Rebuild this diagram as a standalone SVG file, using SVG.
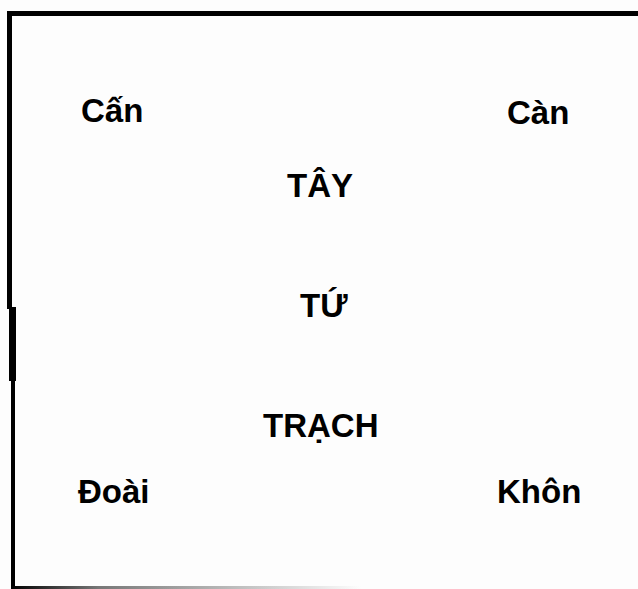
<svg xmlns="http://www.w3.org/2000/svg" width="638" height="589" viewBox="0 0 638 589">
  <defs>
    <linearGradient id="fadeBottom" x1="0" y1="0" x2="1" y2="0">
      <stop offset="0" stop-color="#000"/>
      <stop offset="0.25" stop-color="#777"/>
      <stop offset="1" stop-color="#fdfdfd"/>
    </linearGradient>
    <style>
      .lbl { font-family: "Liberation Sans", Arial, sans-serif; font-weight: bold; font-size: 33px; fill: #000; }
    </style>
  </defs>
  <rect x="0" y="0" width="638" height="589" fill="#fdfdfd"/>

  <!-- frame -->
  <g id="frame">
    <rect x="7" y="11" width="631" height="5" fill="#000"/>
    <rect x="7" y="11" width="5" height="298" fill="#000"/>
    <rect x="9" y="307" width="7" height="74" fill="#000"/>
    <rect x="11" y="380" width="4" height="209" fill="#000"/>
    <rect x="11" y="586" width="350" height="3" fill="url(#fadeBottom)"/>
  </g>

  <!-- corner trigrams -->
  <g id="can-ne"><text class="lbl" x="81" y="122">Cấn</text></g>
  <g id="can-nw"><text class="lbl" x="507" y="124">Càn</text></g>
  <g id="doai"><text class="lbl" x="78" y="503">Đoài</text></g>
  <g id="khon"><text class="lbl" x="497" y="503">Khôn</text></g>

  <!-- centre title -->
  <g id="tay"><text class="lbl" x="287" y="197">TÂY</text></g>
  <g id="tu"><text class="lbl" x="300" y="317">TỨ</text></g>
  <g id="trach"><text class="lbl" x="263" y="437">TRẠCH</text></g>
</svg>
